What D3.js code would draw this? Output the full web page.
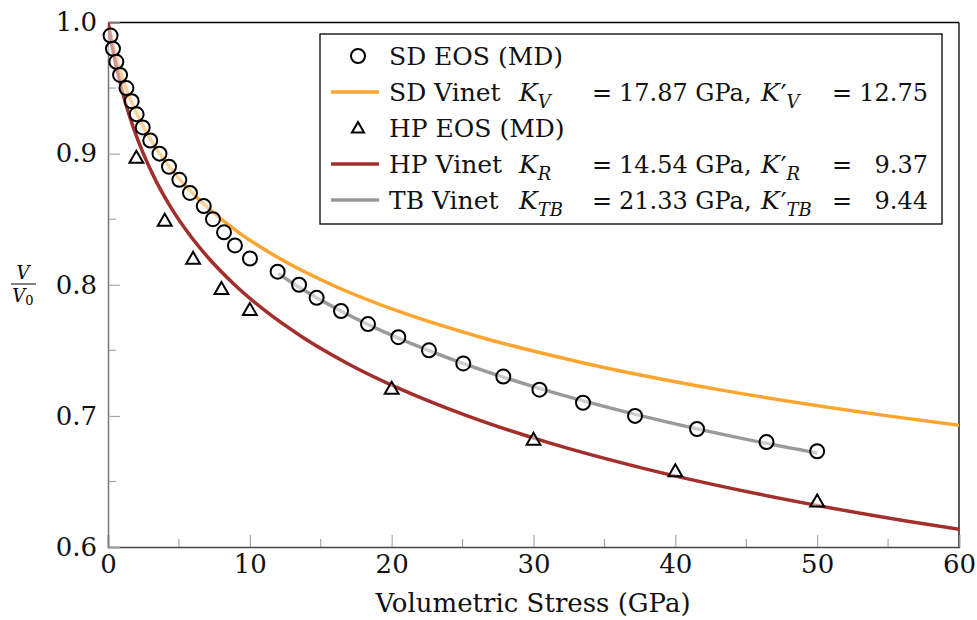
<!DOCTYPE html>
<html><head><meta charset="utf-8">
<script src="https://cdn.jsdelivr.net/npm/d3@7"></script>
<style>body{margin:0;background:#fff}svg{display:block}</style>
</head><body>
<svg id="chart" width="977" height="620"></svg>
<script>
// ---- data ----
const xTicks = [0, 10, 20, 30, 40, 50, 60];
const xMinorTicks = [5, 15, 25, 35, 45, 55];
const yTicks = [0.6, 0.7, 0.8, 0.9, 1.0];
const yMinorTicks = [0.65, 0.75, 0.85, 0.95];

// SD EOS (MD) points
const sdStress = [0.18, 0.35, 0.59, 0.85, 1.30, 1.67, 2.02, 2.45, 2.98, 3.63, 4.30, 5.03, 5.78, 6.75, 7.40, 8.18, 8.95, 10.01, 11.96, 13.47, 14.71, 16.43, 18.33, 20.47, 22.63, 25.05, 27.87, 30.42, 33.49, 37.16, 41.53, 46.43, 50.0];
const sdVol    = [0.99, 0.98, 0.97, 0.96, 0.95, 0.94, 0.93, 0.92, 0.91, 0.90, 0.89, 0.88, 0.87, 0.86, 0.85, 0.84, 0.83, 0.82, 0.81, 0.80, 0.79, 0.78, 0.77, 0.76, 0.75, 0.74, 0.73, 0.72, 0.71, 0.70, 0.69, 0.68, 0.673];

// HP EOS (MD) points
const hpStress = [2, 4, 6, 8, 10, 20, 30, 40, 50];
const hpVol    = [0.896, 0.848, 0.819, 0.796, 0.780, 0.720, 0.681, 0.657, 0.634];

// SD Vinet curve
const sdVinetStress = [0, 0.1914, 0.4105, 0.9448, 1.6344, 2.5184, 3.6464, 5.0801, 6.8978, 9.1975, 12.1035, 15.7744, 20.4113, 26.2696, 33.6806, 43.0650, 54.9713, 62.085];
const sdVinetVol    = [1.00, 0.99, 0.98, 0.96, 0.94, 0.92, 0.90, 0.88, 0.86, 0.84, 0.82, 0.80, 0.78, 0.76, 0.74, 0.72, 0.70, 0.69];

// HP Vinet curve
const hpVinetStress = [0, 0.1532, 0.3228, 0.7178, 1.1991, 1.7833, 2.4907, 3.3455, 4.3771, 5.6207, 7.1188, 8.9239, 11.0993, 13.7218, 16.8865, 20.7101, 25.3370, 30.9436, 37.7544, 46.0438, 56.1619, 62.0383];
const hpVinetVol    = [1.00, 0.99, 0.98, 0.96, 0.94, 0.92, 0.90, 0.88, 0.86, 0.84, 0.82, 0.80, 0.78, 0.76, 0.74, 0.72, 0.70, 0.68, 0.66, 0.64, 0.62, 0.61];

// TB Vinet curve
const tbVinetStress = [12.0, 13.1901, 16.4190, 20.3151, 25.0225, 30.7144, 37.6091, 45.9722, 50.0];
const tbVinetVol    = [0.8085, 0.80, 0.78, 0.76, 0.74, 0.72, 0.70, 0.68, 0.6717];

const colOrange = "#fda52e", colRed = "#a32f2c", colGrey = "#9a9a9a";

// ---- chart ----
const svg = d3.select("#chart");
const x = d3.scaleLinear().domain([0, 60]).range([108, 959]);
const y = d3.scaleLinear().domain([0.6, 1.0]).range([547, 22.5]);
const FONT = "DejaVu Serif";
const TICKFS = 26;

svg.append("defs").append("clipPath").attr("id", "clip")
  .append("rect").attr("x", 108).attr("y", 22.5).attr("width", 851).attr("height", 524.5);

// frame: top and right black
svg.append("line").attr("x1", 108).attr("x2", 959).attr("y1", 22.5).attr("y2", 22.5).attr("stroke", "#000").attr("stroke-width", 1.3);
svg.append("line").attr("x1", 959).attr("x2", 959).attr("y1", 22.5).attr("y2", 547).attr("stroke", "#000").attr("stroke-width", 1.3);

// minor ticks
const gx = svg.append("g").attr("transform", "translate(0,547)");
gx.selectAll("line.minor").data(xMinorTicks).join("line")
  .attr("x1", d => x(d)).attr("x2", d => x(d)).attr("y1", 0).attr("y2", -8)
  .attr("stroke", "#999").attr("stroke-width", 1);
const gy = svg.append("g").attr("transform", "translate(108,0)");
gy.selectAll("line.minor").data(yMinorTicks).join("line")
  .attr("y1", d => y(d)).attr("y2", d => y(d)).attr("x1", 0).attr("x2", 8)
  .attr("stroke", "#999").attr("stroke-width", 1);

// major axes
const xAxis = d3.axisBottom(x).tickValues(xTicks).tickSize(-12).tickPadding(8).tickFormat(d3.format("d"));
gx.call(xAxis);
gx.select(".domain").attr("stroke", "#444").attr("stroke-width", 1.5);
gx.selectAll(".tick line").attr("stroke", "#999");
gx.selectAll(".tick text").attr("font-family", FONT).attr("font-size", TICKFS).attr("fill", "#111");

const yAxis = d3.axisLeft(y).tickValues(yTicks).tickSize(-12).tickPadding(11).tickFormat(d3.format(".1f"));
gy.call(yAxis);
gy.select(".domain").attr("stroke", "#777").attr("stroke-width", 1.5);
gy.selectAll(".tick line").attr("stroke", "#999");
gy.selectAll(".tick text").attr("font-family", FONT).attr("font-size", TICKFS).attr("fill", "#111");

// curves
const plot = svg.append("g").attr("clip-path", "url(#clip)");
const line = d3.line().x(d => x(d[0])).y(d => y(d[1])).curve(d3.curveMonotoneX);
const zip = (a, b) => a.map((v, i) => [v, b[i]]);
plot.append("path").datum(zip(sdVinetStress, sdVinetVol)).attr("d", line)
  .attr("fill", "none").attr("stroke", colOrange).attr("stroke-width", 3.5);
plot.append("path").datum(zip(tbVinetStress, tbVinetVol)).attr("d", line)
  .attr("fill", "none").attr("stroke", colGrey).attr("stroke-width", 3.5);
plot.append("path").datum(zip(hpVinetStress, hpVinetVol)).attr("d", line)
  .attr("fill", "none").attr("stroke", colRed).attr("stroke-width", 3.5);

// markers
const triPath = (R) => `M0,${-R}L${R*0.866},${R/2}L${-R*0.866},${R/2}Z`;
svg.append("g").selectAll("circle").data(zip(sdStress, sdVol)).join("circle")
  .attr("cx", d => x(d[0])).attr("cy", d => y(d[1])).attr("r", 7)
  .attr("fill", "#fff").attr("fill-opacity", 0.5).attr("stroke", "#000").attr("stroke-width", 2);
svg.append("g").selectAll("path").data(zip(hpStress, hpVol)).join("path")
  .attr("transform", d => `translate(${x(d[0])},${y(d[1])})`).attr("d", triPath(8))
  .attr("fill", "#fff").attr("fill-opacity", 0.5).attr("stroke", "#000").attr("stroke-width", 2)
  .attr("stroke-linejoin", "miter");

// axis labels
svg.append("text").attr("x", 533).attr("y", 612).attr("text-anchor", "middle")
  .attr("font-family", FONT).attr("font-size", 26).attr("fill", "#111").text("Volumetric Stress (GPa)");
const fr = svg.append("g");
fr.append("text").attr("x", 23).attr("y", 279).attr("text-anchor", "middle")
  .attr("font-family", FONT).attr("font-style", "italic").attr("font-size", 18).text("V");
fr.append("line").attr("x1", 11).attr("x2", 36).attr("y1", 284).attr("y2", 284).attr("stroke", "#000").attr("stroke-width", 1);
const v0 = fr.append("text").attr("x", 23).attr("y", 302).attr("text-anchor", "middle")
  .attr("font-family", FONT).attr("font-size", 18);
v0.append("tspan").attr("font-style", "italic").text("V");
v0.append("tspan").attr("font-size", 13).attr("dy", 3).text("0");

// legend
const leg = svg.append("g");
leg.append("rect").attr("x", 320).attr("y", 34).attr("width", 622).attr("height", 190)
  .attr("fill", "#fff").attr("stroke", "#000").attr("stroke-width", 1.3);
const rows = [56, 92, 128, 164, 200];
const LS = 25, MS = 24;
function txt(xp, yb, s, opts = {}) {
  const t = leg.append("text").attr("x", xp).attr("y", yb).attr("font-family", FONT)
    .attr("font-size", opts.size || LS).attr("fill", "#111").text(s);
  if (opts.italic) t.attr("font-style", "italic");
  if (opts.anchor) t.attr("text-anchor", opts.anchor);
  return t;
}
function mathK(xp, yb, sub, prime) {
  const t = leg.append("text").attr("x", xp).attr("y", yb).attr("font-family", FONT)
    .attr("font-size", LS).attr("fill", "#111");
  t.append("tspan").attr("font-style", "italic").text("K");
  if (prime) {
    t.append("tspan").attr("font-size", 26).attr("dx", 1).attr("dy", 2).text("\u2032");
    t.append("tspan").attr("font-style", "italic").attr("font-size", 18).attr("dx", 0).attr("dy", 5).text(sub);
  } else {
    t.append("tspan").attr("font-style", "italic").attr("font-size", 18).attr("dx", 0).attr("dy", 7).text(sub);
  }
}
// row 0 : SD EOS
leg.append("circle").attr("cx", 358).attr("cy", rows[0]).attr("r", 7)
  .attr("fill", "#fff").attr("stroke", "#000").attr("stroke-width", 2);
txt(389, rows[0] + 9, "SD EOS (MD)");
// row 2 : HP EOS
leg.append("path").attr("transform", `translate(358,${rows[2] + 1})`).attr("d", triPath(7))
  .attr("fill", "#fff").attr("stroke", "#000").attr("stroke-width", 2);
txt(389, rows[2] + 9, "HP EOS (MD)");
// vinet rows
const vinet = [
  { r: 1, col: colOrange, name: "SD Vinet", sub: "V", K: "17.87", Kp: "12.75" },
  { r: 3, col: colRed, name: "HP Vinet", sub: "R", K: "14.54", Kp: "9.37" },
  { r: 4, col: colGrey, name: "TB Vinet", sub: "TB", K: "21.33", Kp: "9.44" }
];
vinet.forEach(v => {
  const yc = rows[v.r], yb = yc + 9;
  leg.append("line").attr("x1", 331).attr("x2", 379).attr("y1", yc).attr("y2", yc)
    .attr("stroke", v.col).attr("stroke-width", 3.5);
  txt(389, yb, v.name);
  mathK(519, yb, v.sub, false);
  txt(592, yb, "=", { size: MS });
  txt(619, yb, v.K + " GPa,", { size: MS });
  mathK(761, yb, v.sub, true);
  txt(832, yb, "=", { size: MS });
  txt(928, yb, v.Kp, { anchor: "end", size: MS });
});
</script>
</body></html>
